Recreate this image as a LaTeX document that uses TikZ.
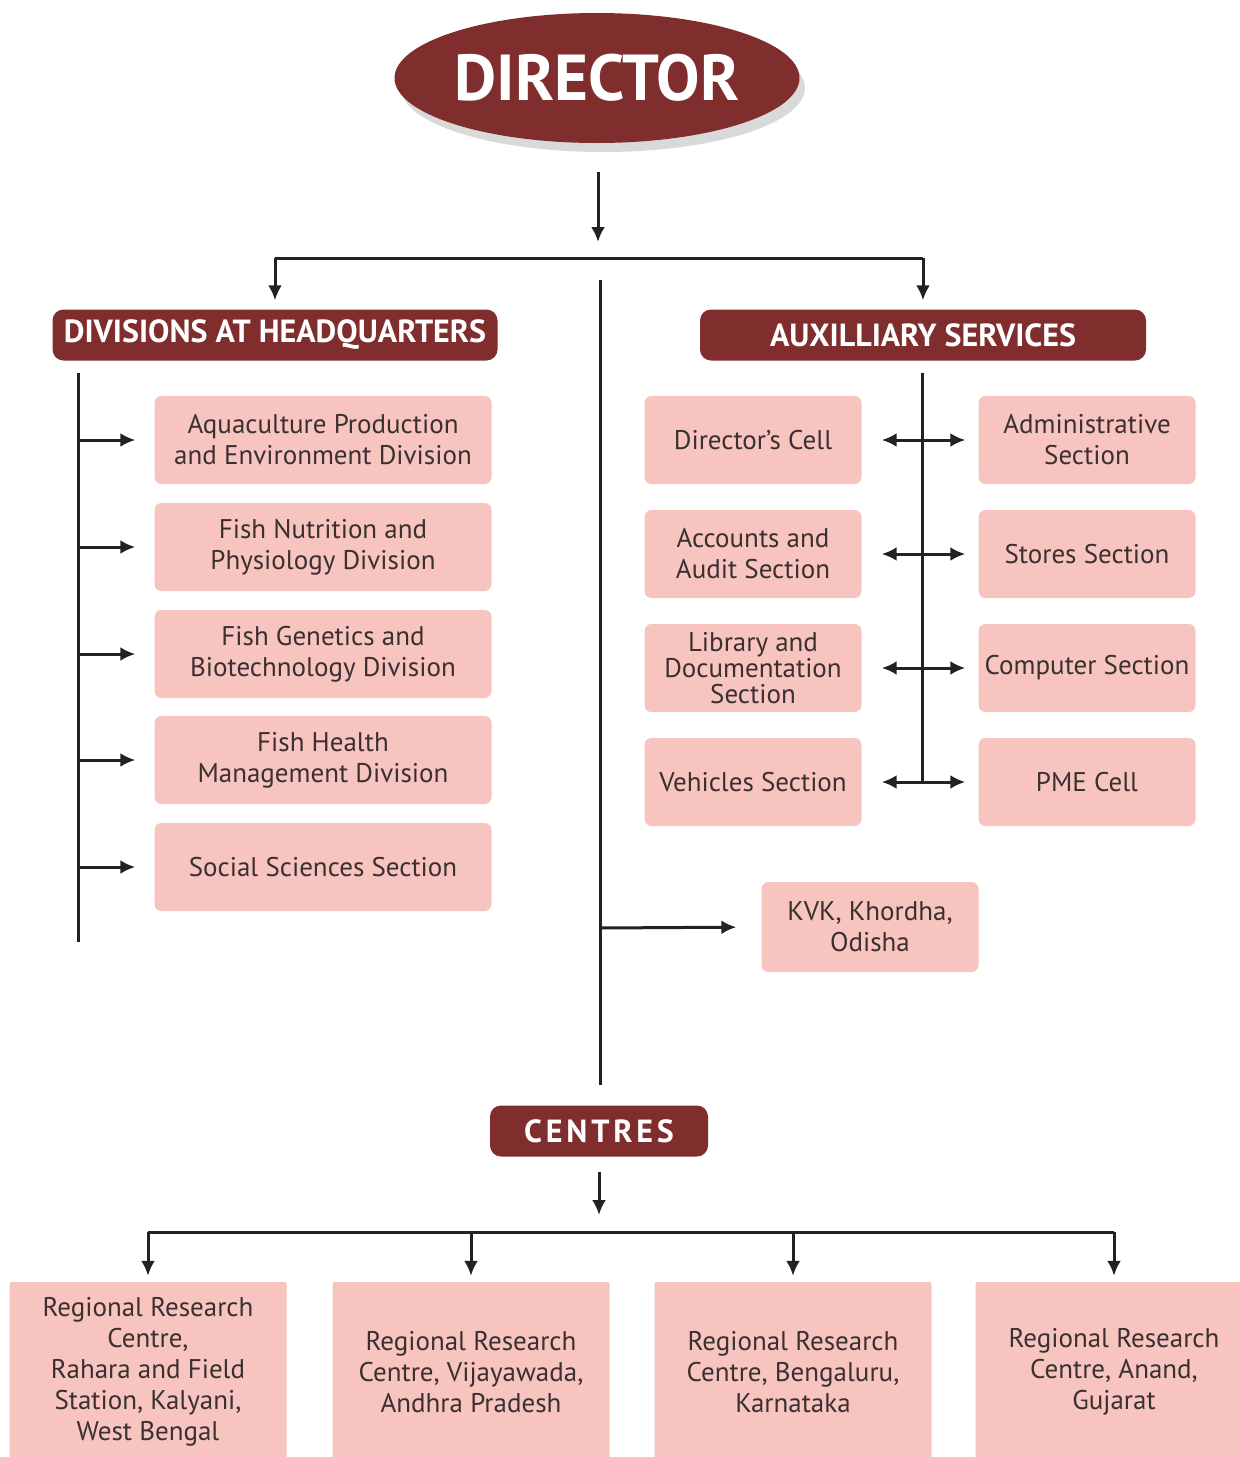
\documentclass[tikz,border=0pt]{standalone}
\usepackage{fontspec}
\setmainfont{PT Sans}
\usetikzlibrary{arrows.meta,shapes.geometric}
\definecolor{maroon}{HTML}{7F2D2D}
\definecolor{pinkbox}{HTML}{F7C4C0}
\definecolor{txt}{HTML}{3A3030}
\definecolor{lineblk}{HTML}{222222}
\begin{document}
\begin{tikzpicture}[x=1pt,y=-1pt,
  hdr/.style={rectangle, rounded corners=11pt, fill=maroon, text=white, font=\fontsize{32}{36}\selectfont\bfseries, inner sep=0pt, minimum height=51pt},
  pbox/.style={rectangle, rounded corners=7pt, fill=pinkbox, text=txt, font=\fontsize{27}{31}\selectfont, align=center, inner sep=0pt, minimum height=88pt},
  lbox/.style={pbox, minimum width=337pt},
  sbox/.style={pbox, minimum width=217pt},
  cbox/.style={pbox, rounded corners=2pt, minimum width=277pt, minimum height=180pt},
  ln/.style={draw=lineblk, line width=3pt},
  arr/.style={ln, -{Latex[length=15pt,width=14pt]}},
  darr/.style={ln, {Latex[length=15pt,width=14pt]}-{Latex[length=15pt,width=14pt]}}
]
\useasboundingbox (0,0) rectangle (1240,1457);
\fill[white] (0,0) rectangle (1240,1457);

% Director
\fill[black!15] (603,88) ellipse [x radius=202pt, y radius=64pt];
\node[ellipse, fill=maroon, text=white, minimum width=405pt, minimum height=130pt, inner sep=0pt,
  font=\fontsize{65}{68}\selectfont\bfseries] (dir) at (597,78) {DIRECTOR};

\coordinate (d0) at (598,172);
\coordinate (d1) at (598,242);
\draw[arr] (d0) -- (d1);

\coordinate (hL) at (275,258);
\coordinate (hR) at (923,258);
\draw[ln] (hL) -- (hR);

\node[hdr, minimum width=445pt] (hq) at (275,335) {DIVISIONS AT HEADQUARTERS};
\node[hdr, minimum width=446pt] (aux) at (923,335) {AUXILLIARY SERVICES};
\draw[arr, shorten >=9pt] (hL) -- (hq.north);
\draw[arr, shorten >=9pt] (hR) -- (aux.north);

% central spine
\coordinate (c0) at (600,280);
\coordinate (ck) at (600,928);
\coordinate (c1) at (600,1085);
\draw[ln] (c0) -- (c1);

% left divisions
\coordinate (l0) at (78,373);
\coordinate (l1) at (78,942);
\draw[ln] (l0) -- (l1);
\node[lbox] (b1) at (323,440) {Aquaculture Production\\and Environment Division};
\node[lbox] (b2) at (323,547) {Fish Nutrition and\\Physiology Division};
\node[lbox] (b3) at (323,654) {Fish Genetics and\\Biotechnology Division};
\node[lbox] (b4) at (323,760) {Fish Health\\Management Division};
\node[lbox] (b5) at (323,867) {Social Sciences Section};
\foreach \b in {b1,b2,b3,b4,b5}{
  \draw[arr, shorten >=19pt] (l0 |- \b.west) -- (\b.west);
}

% auxiliary services
\coordinate (r0) at (922,373);
\coordinate (r1) at (922,782);
\draw[ln] (r0) -- (r1);
\node[sbox] (s1) at (753,440) {Director's Cell};
\node[sbox] (s2) at (753,554) {Accounts and\\Audit Section};
\node[sbox, font=\fontsize{27}{26}\selectfont] (s3) at (753,668) {Library and\\Documentation\\Section};
\node[sbox] (s4) at (753,782) {Vehicles Section};
\node[sbox] (t1) at (1087,440) {Administrative\\Section};
\node[sbox] (t2) at (1087,554) {Stores Section};
\node[sbox] (t3) at (1087,668) {Computer Section};
\node[sbox] (t4) at (1087,782) {PME Cell};
\foreach \a/\b in {s1/t1,s2/t2,s3/t3,s4/t4}{
  \draw[darr, shorten <=20pt, shorten >=13pt] (\a.east) -- (\b.west);
}

% KVK
\node[sbox, minimum height=90pt] (kvk) at (870,927) {KVK, Khordha,\\Odisha};
\draw[arr, shorten >=25pt] (ck) -- (kvk.west);

% Centres
\node[hdr, minimum width=218pt, font=\fontsize{32}{36}\selectfont\bfseries\addfontfeature{LetterSpace=12}] (cen) at (599,1131) {CENTRES};
\coordinate (e0) at (599,1172);
\coordinate (e1) at (599,1215);
\draw[arr] (e0) -- (e1);

\coordinate (gL) at (148,1232);
\coordinate (gR) at (1114,1232);
\draw[ln] (gL) -- (gR);

\node[cbox] (k1) at (148,1372) {Regional Research\\Centre,\\Rahara and Field\\Station, Kalyani,\\West Bengal};
\node[cbox] (k2) at (471,1372) {Regional Research\\Centre, Vijayawada,\\Andhra Pradesh};
\node[cbox] (k3) at (793,1372) {Regional Research\\Centre, Bengaluru,\\Karnataka};
\node[cbox] (k4) at (1114,1372) {Regional Research\\Centre, Anand,\\Gujarat};
\foreach \k in {k1,k2,k3,k4}{
  \draw[arr, shorten >=6pt] (gL -| \k.north) -- (\k.north);
}
\end{tikzpicture}
\end{document}
